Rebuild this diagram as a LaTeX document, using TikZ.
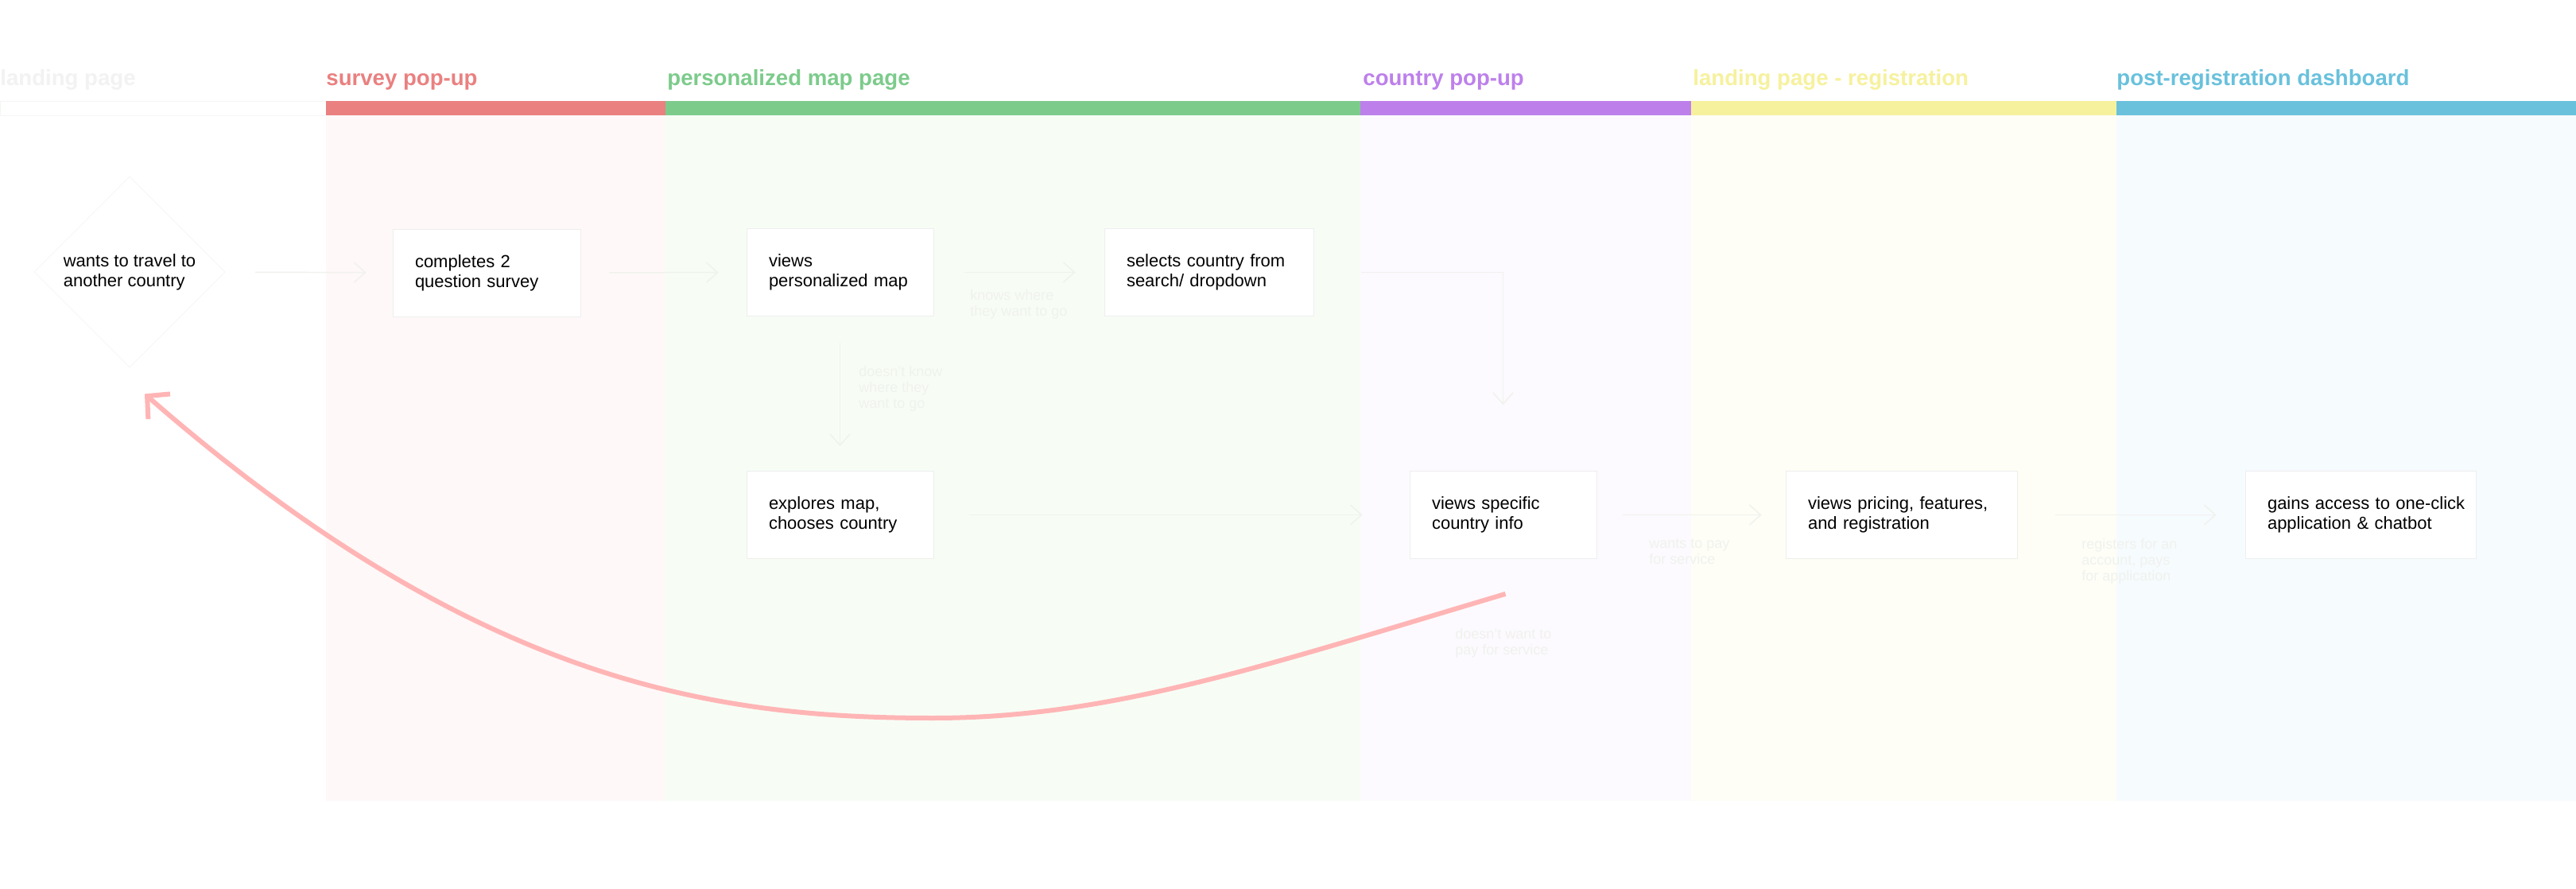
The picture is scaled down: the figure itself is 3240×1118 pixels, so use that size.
\documentclass[tikz,border=0pt]{standalone}
\usepackage{fontspec}
\setmainfont{Liberation Sans}
\usetikzlibrary{arrows.meta,shapes.geometric}

\definecolor{landline}{HTML}{F4F6F4}
\definecolor{landtext}{HTML}{F2F2F2}
\definecolor{surveyred}{HTML}{EA8080}
\definecolor{surveybg}{HTML}{FFF8F8}
\definecolor{mapgreen}{HTML}{7CCB8B}
\definecolor{mapbg}{HTML}{F7FDF5}
\definecolor{countrypurple}{HTML}{BD80EB}
\definecolor{countrybg}{HTML}{FCFAFE}
\definecolor{regyellow}{HTML}{F6F19D}
\definecolor{regbg}{HTML}{FEFEF7}
\definecolor{dashblue}{HTML}{69C1DC}
\definecolor{dashbg}{HTML}{F6FBFE}
\definecolor{cardline}{HTML}{EEEEEE}
\definecolor{choiceline}{HTML}{F4F4F4}
\definecolor{faint}{HTML}{F0F2ED}
\definecolor{backpink}{HTML}{FFB5B5}

\tikzset{
  card/.style={draw=cardline, fill=white, minimum height=55pt, inner xsep=14pt,
    align=left, font=\fontsize{11}{12.5}\selectfont},
  choice/.style={draw=choiceline, fill=white, shape=diamond, minimum width=120pt,
    minimum height=120pt, inner sep=0pt, align=left, font=\fontsize{11}{12.5}\selectfont},
  flow/.style={draw=faint, line width=0.75pt, -{Straight Barb[length=7pt,width=12.5pt]}},
  note/.style={text=faint, font=\fontsize{9}{10}\selectfont, align=left,
    anchor=north west, inner sep=0pt},
  lanehead/.style={font=\bfseries\fontsize{13.8}{16}\selectfont, anchor=base west, inner sep=0pt},
  backloop/.style={draw=backpink, line width=3pt, -{Straight Barb[length=10pt,width=21pt]}},
}

\begin{document}
\begin{tikzpicture}[x=0.5pt,y=-0.5pt]
\useasboundingbox (0,0) rectangle (3240,1118);
\fill[white] (0,0) rectangle (3240,1118);

% swim lanes
\filldraw[fill=white, draw=landline] (0,127) rectangle (410,145);
\node[lanehead, text=landtext] (hlanding) at (0,108) {landing page};
\fill[surveybg] (410,145) rectangle (837,1007);
\fill[surveyred] (410,127) rectangle (837,145);
\node[lanehead, text=surveyred] (hsurvey) at (410,108) {survey pop-up};
\fill[mapbg] (837,145) rectangle (1711,1007);
\fill[mapgreen] (837,127) rectangle (1711,145);
\node[lanehead, text=mapgreen] (hmap) at (839,108) {personalized map page};
\fill[countrybg] (1711,145) rectangle (2127,1007);
\fill[countrypurple] (1711,127) rectangle (2127,145);
\node[lanehead, text=countrypurple] (hcountry) at (1714,108) {country pop-up};
\fill[regbg] (2127,145) rectangle (2662,1007);
\fill[regyellow] (2127,127) rectangle (2662,145);
\node[lanehead, text=regyellow] (hreg) at (2129,108) {landing page - registration};
\fill[dashbg] (2662,145) rectangle (3240,1007);
\fill[dashblue] (2662,127) rectangle (3240,145);
\node[lanehead, text=dashblue] (hdash) at (2662,108) {post-registration dashboard};

% steps
\node[choice] (want) at (163,342) {wants to travel to\\another country};
\node[card, text width=90pt] (survey) at (612,343) {completes 2\\question survey};
\node[card, text width=89.5pt] (viewmap) at (1056.5,342.5) {views\\personalized map};
\node[card, text width=103.5pt] (selects) at (1520.5,342.5) {selects country from\\search/ dropdown};
\node[card, text width=89.5pt] (explores) at (1056.5,647.5) {explores map,\\chooses country};
\node[card, text width=89.5pt] (specific) at (1890.5,647.5) {views specific\\country info};
\node[card, text width=117.5pt] (pricing) at (2391.5,647.5) {views pricing, features,\\and registration};
\node[card, text width=117pt] (gains) at (2969,647.5) {\mbox{gains access to one-click}\\application \& chatbot};

% connectors
\draw[flow, shorten <=19pt, shorten >=16.5pt] (want) -- (survey);
\draw[flow, shorten <=18pt, shorten >=17.5pt] (survey) -- (viewmap);
\draw[flow, shorten <=19.5pt, shorten >=18pt] (viewmap) -- (selects);
\draw[flow, shorten <=30pt, shorten >=41.5pt] (selects.east) -| (specific.north);
\draw[flow, shorten <=16.5pt, shorten >=15.5pt] (viewmap) -- (explores);
\draw[flow, shorten <=22.5pt, shorten >=29.5pt] (explores) -- (specific);
\draw[flow, shorten <=16.5pt, shorten >=15pt] (specific) -- (pricing);
\draw[flow, shorten <=24pt, shorten >=18pt] (pricing) -- (gains);

\node[note] (knows) at (1220,364) {knows where\\they want to go};
\node[note] (unsure) at (1080,460) {doesn't know\\where they\\want to go};
\node[note] (pays) at (2074,677) {wants to pay\\for service};
\node[note] (registers) at (2618,677) {registers for an\\account, pays\\for application};
\node[note] (nopay) at (1830,790) {doesn't want to\\pay for service};

% back to the start
\coordinate (loopstart) at ([xshift=1.5pt,yshift=-22pt]specific.south);
\coordinate (loopend) at ([xshift=9.5pt,yshift=-16.5pt]want.south);
\draw[backloop] (loopstart) .. controls (1600,834) and (1400,903) .. (1174,903)
  .. controls (900,903) and (600,860) .. (loopend);
\end{tikzpicture}
\end{document}
